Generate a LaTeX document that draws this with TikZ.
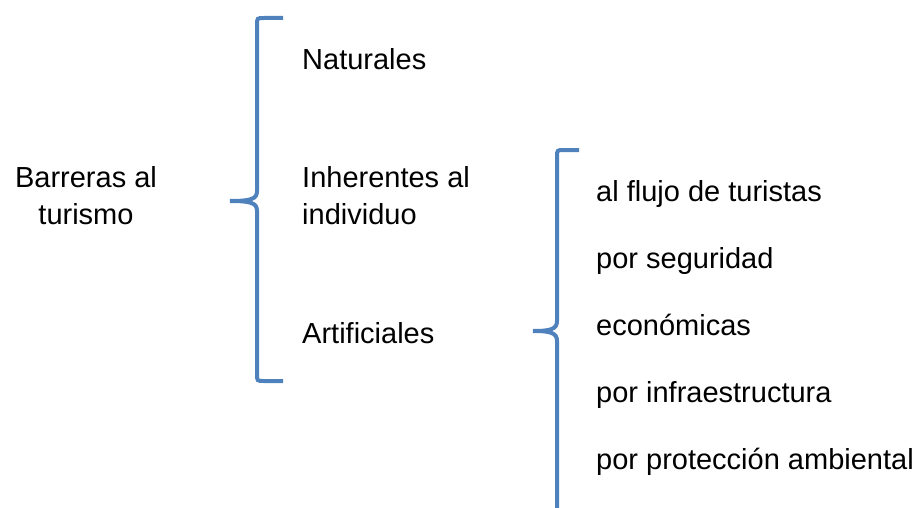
\documentclass[tikz,border=0pt]{standalone}
\usepackage{fontspec}
\setmainfont{Liberation Sans}
\definecolor{llaveazul}{RGB}{79,129,189}
\begin{document}
\begin{tikzpicture}[x=1pt,y=-1pt,
  txt/.style={anchor=base west,inner sep=0,font=\fontsize{29}{37}\selectfont,align=left},
  llave/.style={draw=llaveazul,line width=4pt}]
\useasboundingbox (0,0) rectangle (920,508);
\node[txt,align=center,anchor=base] (barreras) at (86,224) {Barreras al\\turismo};
\node[txt] (naturales) at (302,70) {Naturales};
\node[txt] (inherentes) at (302,224) {Inherentes al\\individuo};
\node[txt] (artificiales) at (302,343) {Artificiales};
\foreach \t [count=\i] in {al flujo de turistas,por seguridad,económicas,por infraestructura,por protección ambiental}
  \node[txt] (tipo\i) at (596,{201+67*(\i-1)}) {\t};
\coordinate (punta1) at (230,201);
\coordinate (punta2) at (533,331);
\draw[llave] (283,18) -- (264,18) .. controls (257,18) .. (257,25) -- (257,191)
  .. controls (257,199) and (251,201) .. (punta1)
  .. controls (251,201) and (257,203) .. (257,211) -- (257,374)
  .. controls (257,381) .. (264,381) -- (283,381);
\draw[llave] (579,150) -- (564,150) .. controls (557,150) .. (557,157) -- (557,321)
  .. controls (557,329) and (551,331) .. (punta2)
  .. controls (551,331) and (557,333) .. (557,341) -- (557,508);
\end{tikzpicture}
\end{document}
